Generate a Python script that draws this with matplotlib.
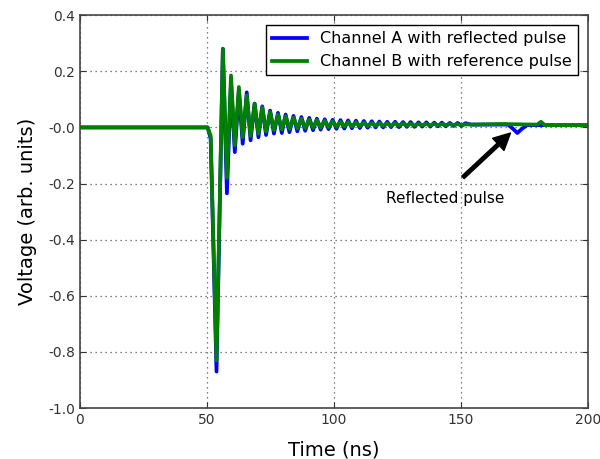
import numpy as np
import matplotlib
matplotlib.use('Agg')
import matplotlib.pyplot as plt

# Ringing extrema (time in ns)
trough_t = [53.8, 57.9, 61.0, 64.1, 67.2, 70.3, 73.3, 76.4, 79.5, 82.5, 85.6, 88.7,
            91.8, 94.8, 97.9, 101.0, 104.1, 107.1, 110.2, 113.3, 116.4, 119.4, 122.5,
            125.6, 128.7, 131.7, 134.8, 137.9, 141.0, 144.0, 147.1, 150.2]
peak_t = [56.3, 59.5, 62.6, 65.7, 68.8, 71.8, 74.9, 78.0, 81.0, 84.1, 87.2, 90.3,
          93.3, 96.4, 99.5, 102.6, 105.6, 108.7, 111.8, 114.9, 117.9, 121.0, 124.1,
          127.2, 130.2, 133.3, 136.4, 139.5, 142.5, 145.6, 148.7, 151.8]

a_troughs = [-0.87, -0.235, -0.088, -0.058, -0.046, -0.035, -0.027, -0.022, -0.02, -0.017,
             -0.014, -0.012, -0.01, -0.008, -0.006, -0.005, -0.004, -0.003, -0.002, -0.001,
             0.0, 0.0, 0.001, 0.001, 0.002, 0.002, 0.003, 0.003, 0.004, 0.004, 0.005, 0.005]
a_peaks = [0.28, 0.16, 0.13, 0.125, 0.085, 0.075, 0.06, 0.052, 0.046, 0.041, 0.037, 0.034,
           0.031, 0.029, 0.027, 0.026, 0.025, 0.024, 0.023, 0.022, 0.021, 0.02, 0.02,
           0.019, 0.019, 0.018, 0.018, 0.017, 0.017, 0.016, 0.016, 0.015]

b_troughs = [-0.83, -0.18, -0.064, -0.035, -0.03, -0.022, -0.015, -0.01, -0.007, -0.005,
             -0.003, -0.002, -0.001, 0.0, 0.001, 0.002, 0.003, 0.003, 0.004, 0.004,
             0.005, 0.005, 0.005, 0.006, 0.006, 0.006, 0.007, 0.007, 0.007, 0.008, 0.008, 0.008]
b_peaks = [0.28, 0.185, 0.144, 0.114, 0.084, 0.072, 0.055, 0.046, 0.04, 0.035, 0.031, 0.028,
           0.026, 0.024, 0.022, 0.02, 0.019, 0.018, 0.017, 0.016, 0.016, 0.015, 0.015,
           0.014, 0.014, 0.013, 0.013, 0.013, 0.012, 0.012, 0.012, 0.011]

# flat parts before and after the ringing
lead_t = [0.0, 50.3, 51.5]
a_lead = [0.0, 0.0, -0.04]
b_lead = [0.0, 0.0, -0.03]
a_tail_t = [154.0, 168.5, 170.5, 172.2, 174.0, 176.0, 200.0]
a_tail = [0.01, 0.01, -0.005, -0.02, -0.005, 0.008, 0.008]
b_tail_t = [154.0, 166.0, 180.0, 181.5, 183.0, 200.0]
b_tail = [0.01, 0.012, 0.01, 0.02, 0.008, 0.008]


def build(lead_v, troughs, peaks, tail_t, tail_v):
    t = list(lead_t)
    v = list(lead_v)
    for tt, tv, pt, pv in zip(trough_t, troughs, peak_t, peaks):
        t += [tt, pt]
        v += [tv, pv]
    return np.array(t + tail_t), np.array(v + tail_v)


ta, va = build(a_lead, a_troughs, a_peaks, a_tail_t, a_tail)
tb, vb = build(b_lead, b_troughs, b_peaks, b_tail_t, b_tail)

fig = plt.figure(figsize=(6, 4.59), dpi=100)
ax = fig.add_axes([0.133, 0.111, 0.847, 0.856])

ax.plot(ta, va, color='b', lw=2.7, label='Channel A with reflected pulse')
ax.plot(tb, vb, color='g', lw=2.7, label='Channel B with reference pulse')

ax.set_xlim(0, 200)
ax.set_ylim(-1.0, 0.4)
ax.set_xticks([0, 50, 100, 150, 200])
ax.set_yticks(np.arange(-1.0, 0.41, 0.2))
ax.yaxis.set_major_formatter(matplotlib.ticker.FormatStrFormatter('%.1f'))
ax.grid(True, color='0.35', linestyle=(0, (1, 3)), linewidth=0.9)
ax.tick_params(direction='in', top=True, right=True, labelsize=10, length=4,
               colors='#333333')
for s in ax.spines.values():
    s.set_color('#444444')
    s.set_linewidth(1.2)

ax.set_xlabel('Time (ns)', fontsize=14, labelpad=10)
ax.set_ylabel('Voltage (arb. units)', fontsize=14, labelpad=8)

leg = ax.legend(loc='upper right', fontsize=11.5, fancybox=False, framealpha=1,
                edgecolor='black', handlelength=2.2, borderaxespad=0.6)
leg.get_frame().set_linewidth(1.0)

ax.annotate('', xy=(169.5, -0.02), xytext=(150.8, -0.178),
            arrowprops=dict(facecolor='black', edgecolor='black', width=2.5,
                            headwidth=12, headlength=12, shrink=0.0))
ax.text(143.7, -0.253, 'Reflected pulse', ha='center', va='center', fontsize=11)

fig.savefig('out.png', dpi=100)
